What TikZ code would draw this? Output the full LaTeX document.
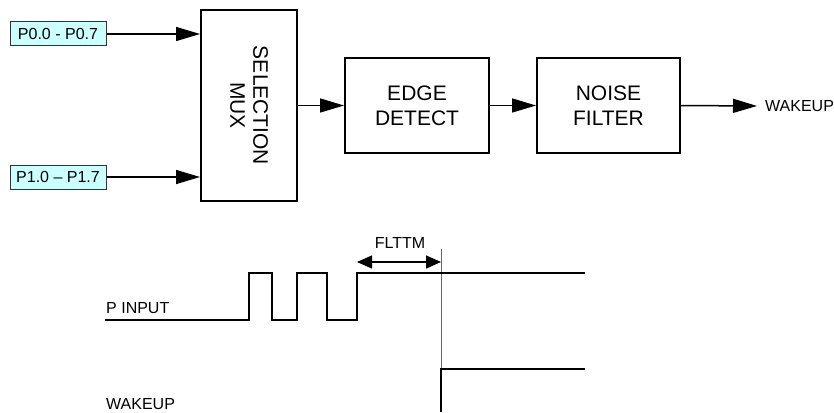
\documentclass[tikz,border=0pt]{standalone}
\usepackage{fontspec}
\setmainfont{Liberation Sans}
\usetikzlibrary{arrows.meta,positioning,calc}
\definecolor{inblue}{RGB}{204,255,255}

\begin{document}
\begin{tikzpicture}[x=1pt, y=-1pt, >={Triangle[length=24pt,width=14pt]}]
    \tikzset{
        block/.style={draw, line width=2pt, rectangle, minimum height=95pt, minimum width=144pt, align=center, font=\fontsize{21}{25}\selectfont, inner sep=0pt},
        inbox/.style={draw=black!80, line width=1pt, fill=inblue, rectangle, minimum height=24pt, minimum width=96pt, inner sep=0pt, font=\fontsize{16}{19}\selectfont},
        lbl/.style={inner sep=0pt, font=\fontsize{16}{19}\selectfont},
        line/.style={draw, ->, line width=1.5pt},
        wave/.style={draw, line width=2pt},
        marker/.style={draw, black!60, line width=1pt}
    }
    \useasboundingbox (0,0) rectangle (834,412);

    % Inputs
    \node[inbox] (p0) at (58,34) {P0.0 - P0.7};
    \node[inbox] (p1) at (58,177) {P1.0 – P1.7};

    % Blocks
    \node[block, minimum width=96pt, minimum height=191pt] (mux) at (249,105.5) {};
    \node[rotate=-90, align=center, font=\fontsize{21}{23}\selectfont] (muxtxt) at (mux.center) {SELECTION\\MUX};
    \node[block] (edge) at (417,105.5) {EDGE\\DETECT};
    \node[block, minimum width=143pt] (noise) at (608.5,105.5) {NOISE\\FILTER};
    \node[lbl, anchor=west] (wkout) at (765,106) {WAKEUP};

    % Connections
    \path[line] (p0.east) -- (p0 -| mux.west);
    \path[line] (p1.east) -- (p1 -| mux.west);
    \path[line] (mux.east) -- (edge.west);
    \path[line] (edge.east) -- (noise.west);
    \path[line] (noise.east) -- ([xshift=-8pt]wkout.west);

    % Timing
    \node[lbl, anchor=west] (pin) at (106,308) {P INPUT};
    \node[lbl, anchor=west] (wk) at (106,404) {WAKEUP};
    \coordinate (t0) at (357,262);
    \coordinate (t1) at (441,262);
    \draw[marker] (441,249) -- (441,412);
    \draw[wave] (105,320) -- (249,320) -- (249,273) -- (272,273) -- (272,320)
        -- (297,320) -- (297,273) -- (327,273) -- (327,320) -- (357,320)
        -- (357,273) -- (585,273);
    \draw[wave] (441,412) -- (441,369) -- (585,369);
    \draw[{Triangle[length=15pt,width=13pt]}-{Triangle[length=15pt,width=13pt]}, line width=1.5pt] (t0) -- (t1);
    \node[lbl] (flttm) at (400,243) {FLTTM};
\end{tikzpicture}
\end{document}
